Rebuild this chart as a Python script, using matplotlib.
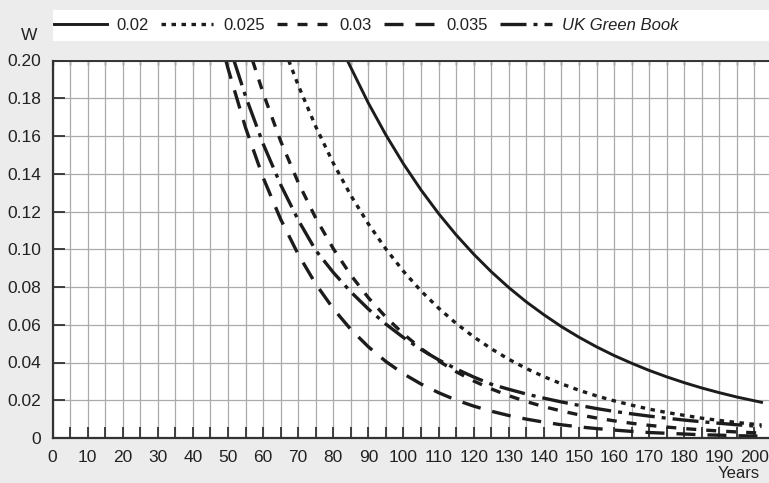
import matplotlib
matplotlib.use("Agg")
import matplotlib.pyplot as plt
from matplotlib.patches import Rectangle

# discount weight W, per series (years, W)
years_002 = [84, 90, 95, 100, 105, 110, 115, 120, 125, 130, 135, 140, 145, 150,
             155, 160, 165, 170, 175, 180, 185, 190, 195, 202]
w_002 = [0.200, 0.1774, 0.1605, 0.1452, 0.1314, 0.1189, 0.1076, 0.0974, 0.0881,
         0.0797, 0.0721, 0.0653, 0.0590, 0.0534, 0.0483, 0.0437, 0.0396, 0.0358,
         0.0324, 0.0293, 0.0265, 0.0240, 0.0217, 0.0189]

years_0025 = [67.3, 70, 75, 80, 85, 90, 95, 100, 105, 110, 115, 120, 125, 130, 135,
              140, 145, 150, 155, 160, 165, 170, 175, 180, 185, 190, 195, 202]
w_0025 = [0.200, 0.1869, 0.1650, 0.1456, 0.1285, 0.1134, 0.1001, 0.0883, 0.0779,
          0.0688, 0.0607, 0.0536, 0.0473, 0.0417, 0.0368, 0.0325, 0.0287, 0.0253,
          0.0223, 0.0197, 0.0174, 0.0153, 0.0135, 0.0120, 0.0105, 0.0093, 0.0082,
          0.0069]

years_003 = [57, 60, 65, 70, 75, 80, 85, 90, 95, 100, 105, 110, 115, 120, 125, 130,
             135, 140, 145, 150, 155, 160, 165, 170, 175, 180, 185, 190, 195, 202]
w_003 = [0.200, 0.1828, 0.1573, 0.1354, 0.1165, 0.1003, 0.0863, 0.0743, 0.0640,
         0.0551, 0.0474, 0.0408, 0.0351, 0.0302, 0.0260, 0.0224, 0.0193, 0.0166,
         0.0143, 0.0123, 0.0106, 0.0091, 0.0078, 0.0067, 0.0058, 0.0050, 0.0043,
         0.0037, 0.0032, 0.0026]

years_0035 = [49.4, 50, 55, 60, 65, 70, 75, 80, 85, 90, 95, 100, 105, 110, 115, 120,
              125, 130, 135, 140, 145, 150, 155, 160, 165, 170, 175, 180, 185, 190,
              195, 202]
w_0035 = [0.200, 0.1958, 0.1644, 0.1380, 0.1159, 0.0973, 0.0816, 0.0685, 0.0575,
          0.0483, 0.0405, 0.0340, 0.0286, 0.0240, 0.0201, 0.0169, 0.0142, 0.0119,
          0.0100, 0.0084, 0.0070, 0.0059, 0.0050, 0.0042, 0.0035, 0.0029, 0.0025,
          0.0021, 0.0017, 0.0015, 0.0012, 0.0010]

years_gb = [51.7, 55, 60, 65, 70, 75, 80, 85, 90, 95, 100, 105, 110, 115, 120, 125,
            130, 135, 140, 145, 150, 155, 160, 165, 170, 175, 180, 185, 190, 195, 202]
w_gb = [0.200, 0.1811, 0.1559, 0.1342, 0.1155, 0.0994, 0.0877, 0.0774, 0.0683,
        0.0603, 0.0532, 0.0469, 0.0414, 0.0366, 0.0323, 0.0285, 0.0258, 0.0233,
        0.0211, 0.0191, 0.0173, 0.0156, 0.0141, 0.0128, 0.0116, 0.0105, 0.0095,
        0.0086, 0.0078, 0.0070, 0.0061]

labels = ["0.02", "0.025", "0.03", "0.035", "UK Green Book"]

plt.rcParams['font.family'] = ['Liberation Sans Narrow', 'Liberation Sans', 'DejaVu Sans']
plt.rcParams['lines.scale_dashes'] = False

W, H = 769, 483
fig = plt.figure(figsize=(W / 100, H / 100), dpi=100, facecolor='#ececec')
ax = fig.add_axes([52.5 / W, (H - 438) / H, (W - 52.5) / W, (438 - 60.5) / H])
ax.set_facecolor('white')

ink = '#1c1c1c'
lw = 2.4
px = 0.72  # one pixel in points
ax.plot(years_002, w_002, color=ink, lw=2.1, label=labels[0])
ax.plot(years_0025, w_0025, color=ink, lw=lw, dashes=(4.5 * px, 5.5 * px), label=labels[1])
ax.plot(years_003, w_003, color=ink, lw=lw, dashes=(10 * px, 10 * px), label=labels[2])
ax.plot(years_0035, w_0035, color=ink, lw=lw, dashes=(19 * px, 12 * px), label=labels[3])
ax.plot(years_gb, w_gb, color=ink, lw=lw,
        dashes=(26 * px, 7 * px, 4 * px, 7 * px), label=labels[4])

ax.set_xlim(0, (W - 52.5) / 3.51)
ax.set_ylim(0, 0.2)

ax.set_xticks(range(0, 205, 5))
ax.set_xticklabels([str(v) if v % 10 == 0 else '' for v in range(0, 205, 5)])
yt = [i * 0.02 for i in range(11)]
ax.set_yticks(yt)
ax.set_yticklabels(['0'] + ['%.2f' % v for v in yt[1:]])
ax.grid(True, color='#ababab', lw=0.9)
ax.set_axisbelow(True)
ax.tick_params(axis='x', direction='in', length=8, width=1.3, color='#333333',
               pad=9, labelsize=12.5, labelcolor='#222222')
ax.tick_params(axis='y', direction='in', length=8.5, width=1.3, color='#333333',
               pad=8, labelsize=12.5, labelcolor='#222222')

top = ax.secondary_xaxis('top')
top.set_xticks(range(0, 205, 5))
top.tick_params(direction='in', length=3.5, width=1.0, color='#333333', labeltop=False)
top.spines['top'].set_visible(False)

for side in ['left', 'bottom']:
    ax.spines[side].set_linewidth(1.6)
    ax.spines[side].set_color('#333333')
ax.spines['top'].set_linewidth(1.4)
ax.spines['top'].set_color('#333333')
ax.spines['right'].set_visible(False)

# legend band
band = Rectangle((52.5 / W, (H - 41) / H), 1 - 52.5 / W, 31 / H,
                 transform=fig.transFigure, facecolor='white', edgecolor='none', zorder=-1)
fig.patches.append(band)
handles, _ = ax.get_legend_handles_labels()
leg = fig.legend(handles, labels, loc='center left', bbox_to_anchor=(54 / W, (H - 25.5) / H),
                 ncol=5, frameon=False, fontsize=12, handlelength=3.15, handletextpad=0.6,
                 columnspacing=0.72, borderaxespad=0, borderpad=0)
for txt in leg.get_texts():
    txt.set_color('#222222')
leg.get_texts()[4].set_style('italic')

fig.text(29 / W, (H - 35) / H, 'W', ha='center', va='center', fontsize=12.5, color='#222222')
fig.text(760 / W, 1.5 / H, 'Years', ha='right', va='bottom', fontsize=12, color='#222222')

fig.savefig('out.png', dpi=100, facecolor=fig.get_facecolor())
